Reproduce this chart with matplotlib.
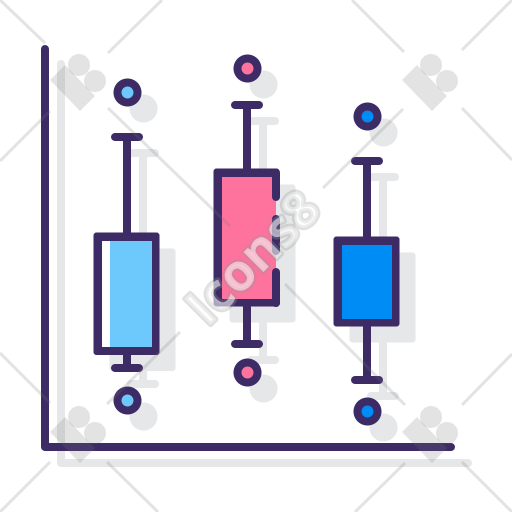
import matplotlib
matplotlib.use('Agg')
import matplotlib.pyplot as plt
from matplotlib.patches import Rectangle, Polygon, Circle, FancyBboxPatch
from matplotlib import patheffects as pe

# values (y axis runs downwards, same as the image)
box_x = [126.5, 246.5, 366.5]
top_out = [91.5, 67.5, 115.5]
whisk_hi = [137, 104.5, 160.5]
q_hi = [236.5, 172.5, 240.5]
q_lo = [351, 302.5, 322.5]
whisk_lo = [367.5, 343.5, 380]
low_out = [399.5, 371.5, 411]
fills = ['#6dc8fc', '#fd739d', '#008cf5']

# dark pieces of the right edge of the pink box
pink_edge = [(172.5, 197), (219, 251), (272, 302.5)]

DARK = '#3c2b65'
SHADOW = '#e6e7e8'
MARK = '#777777'
MARK_A = 0.2
PX = 0.72  # one pixel in points at dpi 100
LW = 8 * PX
HALF_BOX = 29
HALF_CAP = 12
OFF = 16

fig = plt.figure(figsize=(5.12, 5.12), dpi=100)
ax = fig.add_axes([0, 0, 1, 1])
ax.set_xlim(0, 512)
ax.set_ylim(512, 0)
ax.axis('off')


def rline(xs, ys, color=DARK, z=3):
    ax.plot(xs, ys, color=color, lw=LW, solid_capstyle='round', solid_joinstyle='round', zorder=z)


def rbox(x0, y0, x1, y1, color, z):
    ax.add_patch(FancyBboxPatch((x0, y0), x1 - x0, y1 - y0, boxstyle='round,pad=0,rounding_size=3',
                                fc=color, ec='none', zorder=z))


# shadows
rline([61, 61, 468], [64, 463, 463], SHADOW, 1)
for i, x in enumerate(box_x):
    sx = x + OFF
    rline([sx, sx], [whisk_hi[i] + OFF, q_hi[i] + OFF], SHADOW, 1)
    rline([sx, sx], [q_lo[i] + OFF, whisk_lo[i] + OFF], SHADOW, 1)
    rline([sx - HALF_CAP, sx + HALF_CAP], [whisk_hi[i] + OFF] * 2, SHADOW, 1)
    rline([sx - HALF_CAP, sx + HALF_CAP], [whisk_lo[i] + OFF] * 2, SHADOW, 1)
    rbox(sx - HALF_BOX - 4, q_hi[i] + OFF - 4, sx + HALF_BOX + 4, q_lo[i] + OFF + 4, SHADOW, 1)
    ax.scatter([sx, sx], [top_out[i] + OFF, low_out[i] + OFF], s=(28 * PX) ** 2, c=SHADOW, linewidths=0, zorder=1)

# axes lines
rline([45, 45, 451], [49, 447, 447])

# boxes
for i, x in enumerate(box_x):
    rline([x, x], [whisk_hi[i], q_hi[i]])
    rline([x, x], [q_lo[i], whisk_lo[i]])
    rline([x - HALF_CAP, x + HALF_CAP], [whisk_hi[i]] * 2)
    rline([x - HALF_CAP, x + HALF_CAP], [whisk_lo[i]] * 2)
    rbox(x - HALF_BOX - 4, q_hi[i] - 4, x + HALF_BOX + 4, q_lo[i] + 4, DARK, 2)
    ax.add_patch(Rectangle((x - HALF_BOX + 4, q_hi[i] + 4), 2 * HALF_BOX - 8, q_lo[i] - q_hi[i] - 8,
                           fc=fills[i], ec='none', zorder=2.1))
    ax.scatter([x, x], [top_out[i], low_out[i]], s=(20 * PX) ** 2, c=fills[i], edgecolors=DARK,
               linewidths=LW, zorder=3)

# gaps in the pink box edge, the fill runs a little into them
px = box_x[1] + HALF_BOX
for (a0, a1), (b0, b1) in zip(pink_edge[:-1], pink_edge[1:]):
    ax.add_patch(Rectangle((px, a1 - 4), 4.5, b0 - a1 + 8, fc=SHADOW, ec='none', zorder=2.2))
    ax.add_patch(Rectangle((px - 4.5, a1 - 4), 5, b0 - a1 + 8, fc=fills[1], ec='none', zorder=2.2))
for a, b in pink_edge:
    rline([px, px], [a, b])

# white strip in the light blue box
ax.add_patch(Rectangle((box_x[0] - HALF_BOX + 4, q_hi[0] + 4), 8, q_lo[0] - q_hi[0] - 8, fc='white', ec='none', zorder=2.5))

# watermark lines
mark_lines = [
    ((0, 45), (0, 43)), ((462, 512), (50, 0)), ((0, 50), (512, 462)), ((462, 512), (462, 512)),
    ((108, 162), (53, 0)), ((352, 404), (0, 52)), ((0, 50), (161, 111)), ((462, 512), (108, 160)),
    ((0, 50), (353, 403)), ((107, 158), (462, 512)), ((355, 405), (512, 463)), ((462, 512), (405, 354)),
    ((108, 230), (108, 226)), ((285, 405), (284, 405)), ((107, 180), (404, 332)), ((323, 403), (188, 109)),
]
for xs, ys in mark_lines:
    ax.plot(xs, ys, color=MARK, alpha=MARK_A, lw=3 * PX, solid_capstyle='butt', zorder=5)

# watermark logos, one per corner
for dx, dy in [(0, 0), (352, 0), (0, 352), (352, 352)]:
    ax.add_patch(Polygon([(65 + dx, 65 + dy), (50 + dx, 80 + dy), (80 + dx, 111 + dy), (95 + dx, 96 + dy)],
                         fc=MARK, ec='none', alpha=MARK_A, zorder=5))
    ax.add_patch(Circle((79 + dx, 65 + dy), 11, fc=MARK, ec='none', alpha=MARK_A, zorder=5))
    ax.add_patch(Circle((95 + dx, 81 + dy), 11, fc=MARK, ec='none', alpha=MARK_A, zorder=5))

# watermark text
ax.text(256, 261, 'Icons8', rotation=45, rotation_mode='anchor', ha='center', va='center',
        family='Open Sans', fontweight='bold', fontsize=37, color='white', alpha=0.4, zorder=6,
        path_effects=[pe.Stroke(linewidth=3.5, foreground='#999999', alpha=0.3), pe.Normal()])

fig.savefig('out.png', dpi=100, facecolor='white')
